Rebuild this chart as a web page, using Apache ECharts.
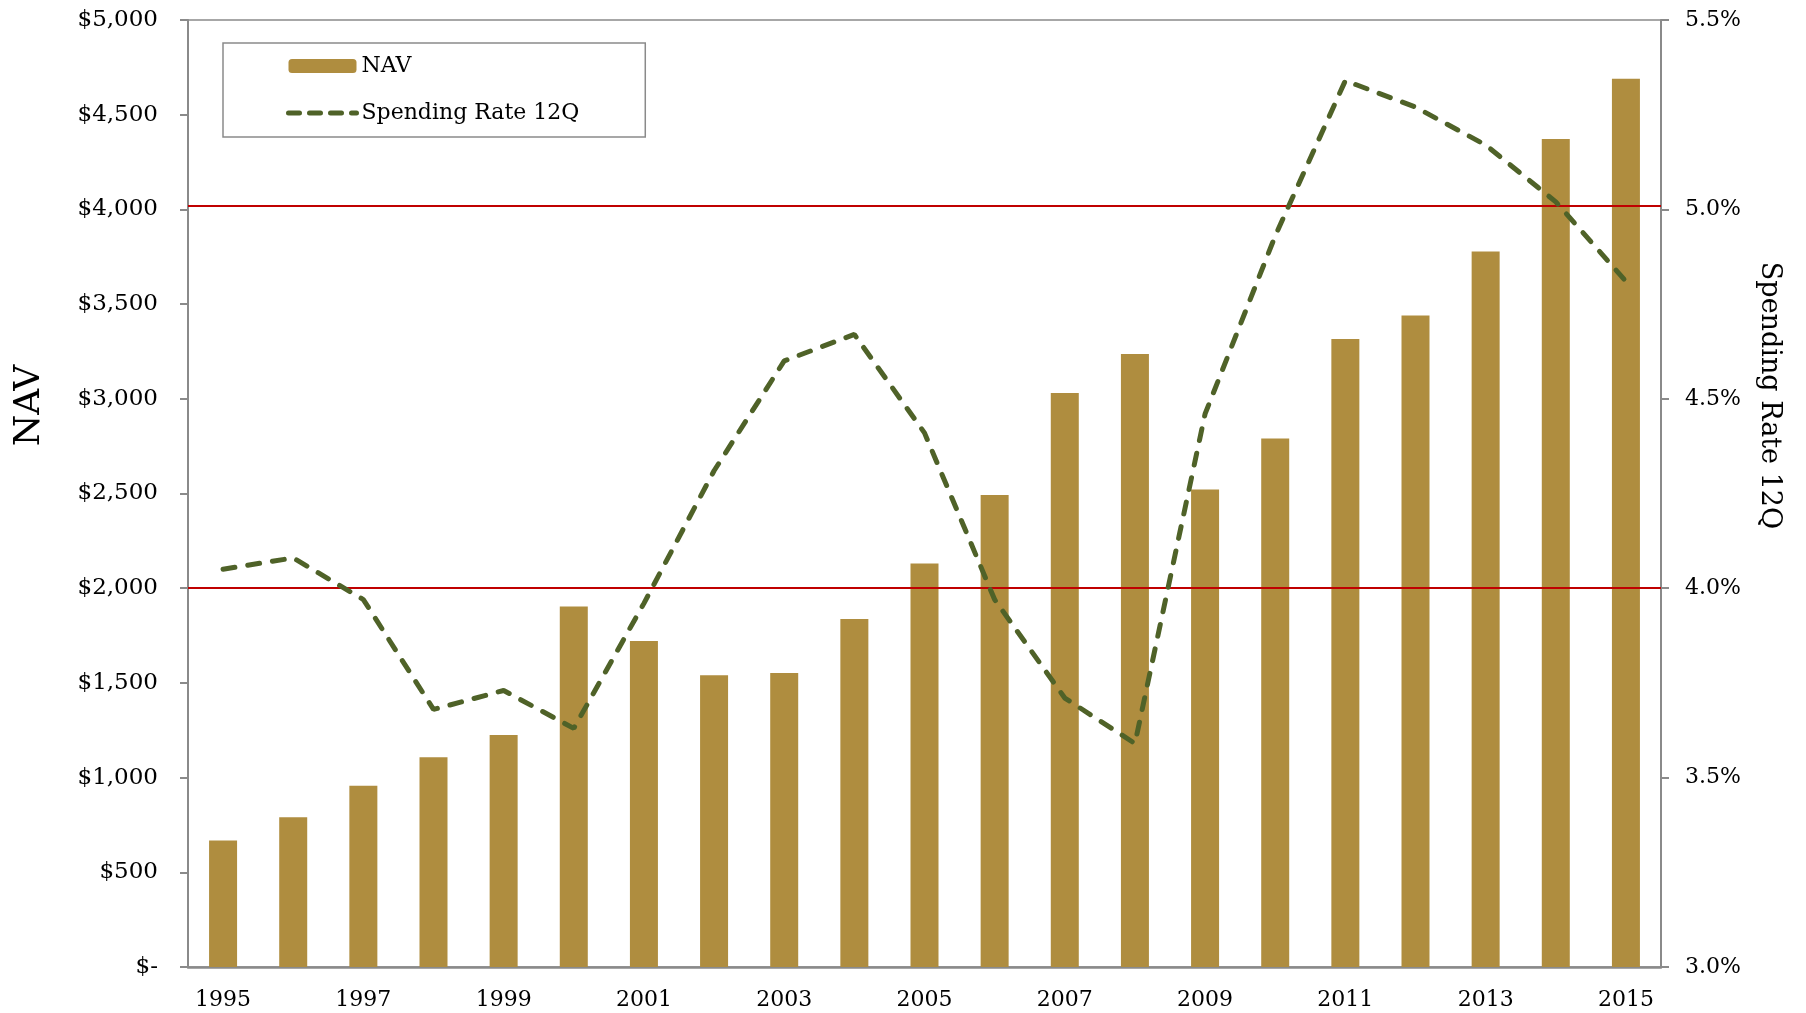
<!DOCTYPE html>
<html>
<head>
<meta charset="utf-8">
<script src="https://cdn.jsdelivr.net/npm/echarts@6/dist/echarts.min.js"></script>
<style>
    html, body { margin: 0; padding: 0; background: #fff; }
    #chart { width: 1806px; height: 1013px; }
</style>
</head>
<body>
<div id="chart"></div>
<script>
    // data
    var years = ['1995', '1996', '1997', '1998', '1999', '2000', '2001', '2002', '2003', '2004', '2005',
        '2006', '2007', '2008', '2009', '2010', '2011', '2012', '2013', '2014', '2015'];
    var navValues = [668, 790, 957, 1107, 1225, 1903, 1721, 1541, 1552, 1837, 2131,
        2492, 3030, 3236, 2521, 2791, 3316, 3440, 3778, 4372, 4690];
    var spendingRate = [4.05, 4.08, 3.97, 3.68, 3.73, 3.63, 3.96, 4.31, 4.60, 4.67, 4.41,
        3.97, 3.71, 3.59, 4.46, 4.93, 5.34, 5.27, 5.17, 5.02, 4.81];
    var refLines = [4.0, 5.01];  // red reference lines on the right axis

    var font = 'DejaVu Serif';
    var gray = '#8a8a8a';
    var lineColor = '#4F6228';

    var myChart = echarts.init(document.getElementById('chart'));

    var option = {
        backgroundColor: '#fff',
        textStyle: { fontFamily: font, color: '#000' },
        animation: false,
        grid: {
            left: 188, right: 145, top: 20, bottom: 46,
            show: true, borderColor: gray, borderWidth: 1.5
        },
        legend: {
            orient: 'vertical',
            left: 223, top: 43,
            padding: [8, 66, 9, 63],
            borderColor: gray, borderWidth: 1.5,
            itemWidth: 68, itemHeight: 14, itemGap: 17,
            textStyle: { fontFamily: font, fontSize: 22, color: '#000', lineHeight: 30 },
            data: [
                'NAV',
                {
                    name: 'Spending Rate 12Q',
                    itemStyle: { opacity: 0 },
                    lineStyle: { color: lineColor, width: 5, type: [11, 10], cap: 'round' }
                }
            ]
        },
        xAxis: {
            type: 'category',
            data: years,
            axisLine: { lineStyle: { color: gray, width: 2.5 } },
            axisTick: { show: false },
            axisLabel: { interval: 1, fontFamily: font, fontSize: 22, color: '#000', margin: 22 }
        },
        yAxis: [
            {
                type: 'value',
                min: 0, max: 5000, interval: 500,
                name: 'NAV',
                nameLocation: 'middle',
                nameRotate: 90,
                nameGap: 140,
                nameTextStyle: { fontFamily: font, fontSize: 36, color: '#000', padding: [0, 0, 0, 176] },
                splitLine: { show: false },
                axisLine: { show: true, lineStyle: { color: gray, width: 2 } },
                axisTick: { show: true, length: 8, lineStyle: { color: gray, width: 2 } },
                axisLabel: {
                    fontFamily: font, fontSize: 23, color: '#000', margin: 30,
                    formatter: function (v) {
                        return v === 0 ? '$-' : '$' + v.toLocaleString('en-US');
                    }
                }
            },
            {
                type: 'value',
                position: 'right',
                min: 3.0, max: 5.5, interval: 0.5,
                name: 'Spending Rate 12Q',
                nameLocation: 'middle',
                nameRotate: -90,
                nameGap: 95,
                nameTextStyle: { fontFamily: font, fontSize: 27, color: '#000', padding: [0, 196, 0, 0] },
                splitLine: { show: false },
                axisLine: { show: true, lineStyle: { color: gray, width: 2 } },
                axisTick: { show: true, length: 8, lineStyle: { color: gray, width: 2 } },
                axisLabel: {
                    fontFamily: font, fontSize: 22, color: '#000', margin: 24,
                    formatter: function (v) { return v.toFixed(1) + '%'; }
                }
            }
        ],
        series: [
            {
                name: 'NAV',
                type: 'bar',
                barWidth: 28,
                itemStyle: { color: '#AF8D3F' },
                data: navValues
            },
            {
                name: 'Spending Rate 12Q',
                type: 'line',
                yAxisIndex: 1,
                symbol: 'none',
                z: 5,
                itemStyle: { color: lineColor },
                lineStyle: { color: lineColor, width: 5, type: [12, 13], cap: 'round' },
                markLine: {
                    silent: true,
                    symbol: 'none',
                    label: { show: false },
                    lineStyle: { color: '#C00000', width: 2, type: 'solid' },
                    data: refLines.map(function (v) { return { yAxis: v }; })
                },
                data: spendingRate
            }
        ]
    };

    myChart.setOption(option);
</script>
</body>
</html>
